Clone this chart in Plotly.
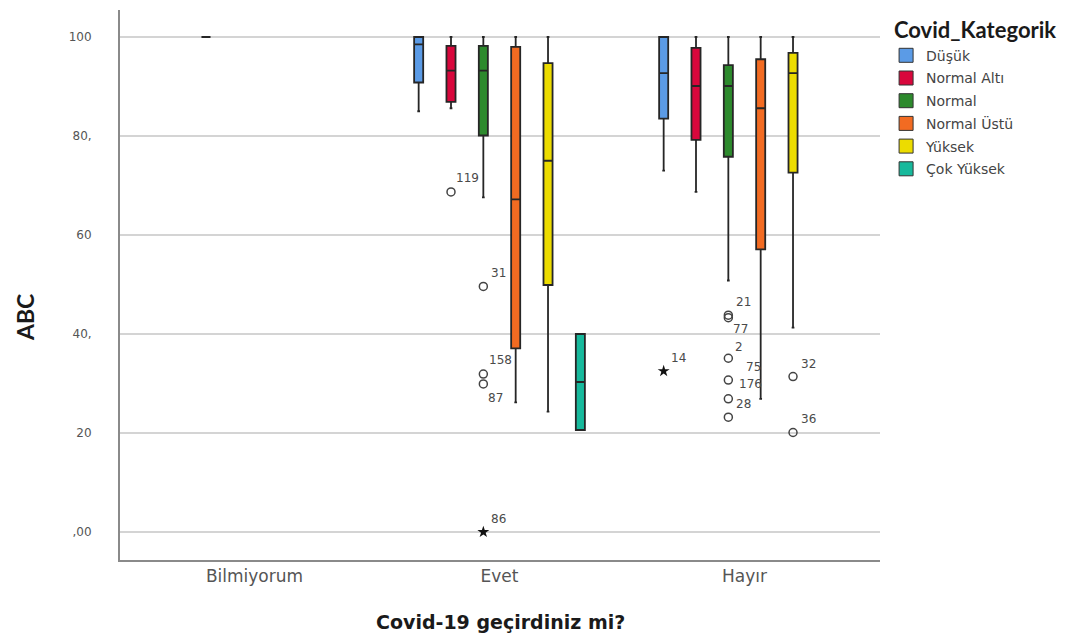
import plotly.graph_objects as go

# Grouping on the x axis and the colour categories
gruplar = ["Bilmiyorum", "Evet", "Hayır"]
kategoriler = ["Düşük", "Normal Altı", "Normal", "Normal Üstü", "Yüksek", "Çok Yüksek"]
renkler = ["#5b9be6", "#d8073c", "#2d8a2d", "#f26b22", "#ecdc00", "#17b99c"]

# Box statistics per category, one value per group (None = no respondents)
alt_biyik = {
    "Düşük":       [None, 85.0, 73.0],
    "Normal Altı": [100, 85.6, 68.7],
    "Normal":      [None, 67.6, 50.8],
    "Normal Üstü": [None, 26.2, 26.9],
    "Yüksek":      [None, 24.3, 41.3],
    "Çok Yüksek":  [None, 20.6, None],
}
q1 = {
    "Düşük":       [None, 90.8, 83.5],
    "Normal Altı": [100, 86.9, 79.2],
    "Normal":      [None, 80.1, 75.8],
    "Normal Üstü": [None, 37.1, 57.1],
    "Yüksek":      [None, 49.9, 72.6],
    "Çok Yüksek":  [None, 20.6, None],
}
medyan = {
    "Düşük":       [None, 98.5, 92.7],
    "Normal Altı": [100, 93.2, 90.1],
    "Normal":      [None, 93.2, 90.1],
    "Normal Üstü": [None, 67.2, 85.6],
    "Yüksek":      [None, 75.0, 92.7],
    "Çok Yüksek":  [None, 30.3, None],
}
q3 = {
    "Düşük":       [None, 100, 100],
    "Normal Altı": [100, 98.2, 97.8],
    "Normal":      [None, 98.2, 94.3],
    "Normal Üstü": [None, 98.0, 95.5],
    "Yüksek":      [None, 94.7, 96.8],
    "Çok Yüksek":  [None, 40.0, None],
}
ust_biyik = {
    "Düşük":       [None, 100, 100],
    "Normal Altı": [100, 100, 100],
    "Normal":      [None, 100, 100],
    "Normal Üstü": [None, 100, 100],
    "Yüksek":      [None, 100, 100],
    "Çok Yüksek":  [None, 40.0, None],
}

# Outlying cases: group, category, value, case number, type ("o" outlier, "*" extreme)
uc_degerler = [
    ("Evet", "Normal Altı", 68.7, "119", "o"),
    ("Evet", "Normal", 49.6, "31", "o"),
    ("Evet", "Normal", 31.9, "158", "o"),
    ("Evet", "Normal", 29.9, "87", "o"),
    ("Evet", "Normal", 0.0, "86", "*"),
    ("Hayır", "Düşük", 32.5, "14", "*"),
    ("Hayır", "Normal", 43.8, "21", "o"),
    ("Hayır", "Normal", 43.3, "77", "o"),
    ("Hayır", "Normal", 35.1, "2", "o"),
    ("Hayır", "Normal", 30.7, "75", "o"),
    ("Hayır", "Normal", 26.9, "176", "o"),
    ("Hayır", "Normal", 23.2, "28", "o"),
    ("Hayır", "Yüksek", 31.4, "32", "o"),
    ("Hayır", "Yüksek", 20.1, "36", "o"),
]

y_tick_degerleri = [0, 20, 40, 60, 80, 100]
y_tick_metinleri = [",00", "20", "40,", "60", "80,", "100"]

# Layout of the grouped boxes (in x-axis units)
SLOT = 0.132
KUTU_GENISLIK = 0.037
ETIKET_KAYMA = {"87": (12, -14), "77": (12, -11), "75": (25, 13),
                "176": (22, 15), "2": (11, 11), "158": (17, 14), "119": (16, 14)}
YAZI = "DejaVu Sans"


def konum(grup, kat):
    return gruplar.index(grup) + (kategoriler.index(kat) - 2.5) * SLOT


fig = go.Figure()

for kat, renk in zip(kategoriler, renkler):
    xs, a, b, c, d, e = [], [], [], [], [], []
    for gi, grup in enumerate(gruplar):
        if medyan[kat][gi] is None:
            continue
        xs.append(konum(grup, kat))
        a.append(alt_biyik[kat][gi])
        b.append(q1[kat][gi])
        c.append(medyan[kat][gi])
        d.append(q3[kat][gi])
        e.append(ust_biyik[kat][gi])
    fig.add_trace(go.Box(
        x=xs, lowerfence=a, q1=b, median=c, q3=d, upperfence=e,
        width=KUTU_GENISLIK, fillcolor=renk,
        line=dict(color="#262626", width=1.8), whiskerwidth=0.3,
        boxpoints=False, showlegend=False, hoverinfo="skip",
    ))
    # legend swatch
    fig.add_trace(go.Scatter(
        x=[None], y=[None], mode="markers", name=kat, legendgroup=kat,
        marker=dict(symbol="square", size=14, color=renk,
                    line=dict(color="#333333", width=1)),
    ))

# outliers and extremes
for sembol, tur in (("circle-open", "o"), ("star", "*")):
    secilen = [u for u in uc_degerler if u[4] == tur]
    fig.add_trace(go.Scatter(
        x=[konum(u[0], u[1]) for u in secilen],
        y=[u[2] for u in secilen],
        mode="markers", showlegend=False, hoverinfo="skip",
        marker=dict(symbol=sembol, size=8 if tur == "o" else 9,
                    color="#444444" if tur == "o" else "#111111",
                    line=dict(color="#444444", width=1.5) if tur == "o" else dict(width=0)),
    ))

for grup, kat, deger, no, tur in uc_degerler:
    dx, dy = ETIKET_KAYMA.get(no, (15, 13))
    fig.add_annotation(
        x=konum(grup, kat), y=deger, text=no, showarrow=False,
        xshift=dx, yshift=dy, font=dict(family=YAZI, size=12, color="#4a4a4a"),
    )

# legend title
fig.add_annotation(
    xref="paper", yref="paper", x=1.016, y=0.964, xanchor="left", yanchor="middle",
    text="<b>Covid_Kategorik</b>", showarrow=False,
    font=dict(family="Lato", size=22, color="#1a1a1a"),
)

# axis titles
fig.add_annotation(
    xref="paper", yref="paper", x=-0.125, y=0.44, xanchor="center", yanchor="middle",
    text="<b>ABC</b>", showarrow=False, textangle=-90,
    font=dict(family="Lato", size=23, color="#1a1a1a"),
)
fig.add_annotation(
    xref="paper", yref="paper", x=0.501, y=-0.113, xanchor="center", yanchor="middle",
    text="<b>Covid-19 geçirdiniz mi?</b>", showarrow=False,
    font=dict(family=YAZI, size=19, color="#1a1a1a"),
)

fig.update_layout(
    width=1073, height=637,
    margin=dict(l=120, r=193, t=10, b=77),
    plot_bgcolor="white", paper_bgcolor="white",
    font=dict(family=YAZI, color="#444444"),
    legend=dict(x=1.008, y=0.946, xanchor="left", yanchor="top",
                font=dict(family=YAZI, size=14, color="#444444"), itemclick=False,
                tracegroupgap=1.5, bgcolor="rgba(0,0,0,0)"),
    xaxis=dict(
        range=[-0.549, 2.553], tickvals=[0, 1, 2], ticktext=gruplar,
        showgrid=False, zeroline=False, showline=True,
        linecolor="#8a8a8a", linewidth=2, ticks="",
        tickfont=dict(family=YAZI, size=17, color="#555555"),
    ),
    yaxis=dict(
        range=[-5.66, 105.45], tickvals=y_tick_degerleri, ticktext=y_tick_metinleri,
        showgrid=True, gridcolor="#d4d4d4", gridwidth=1.5, zeroline=False,
        showline=True, linecolor="#8a8a8a", linewidth=2, ticks="",
        ticklabelstandoff=24,
        tickfont=dict(family=YAZI, size=12, color="#555555"),
    ),
)

fig.write_html("out.html")
